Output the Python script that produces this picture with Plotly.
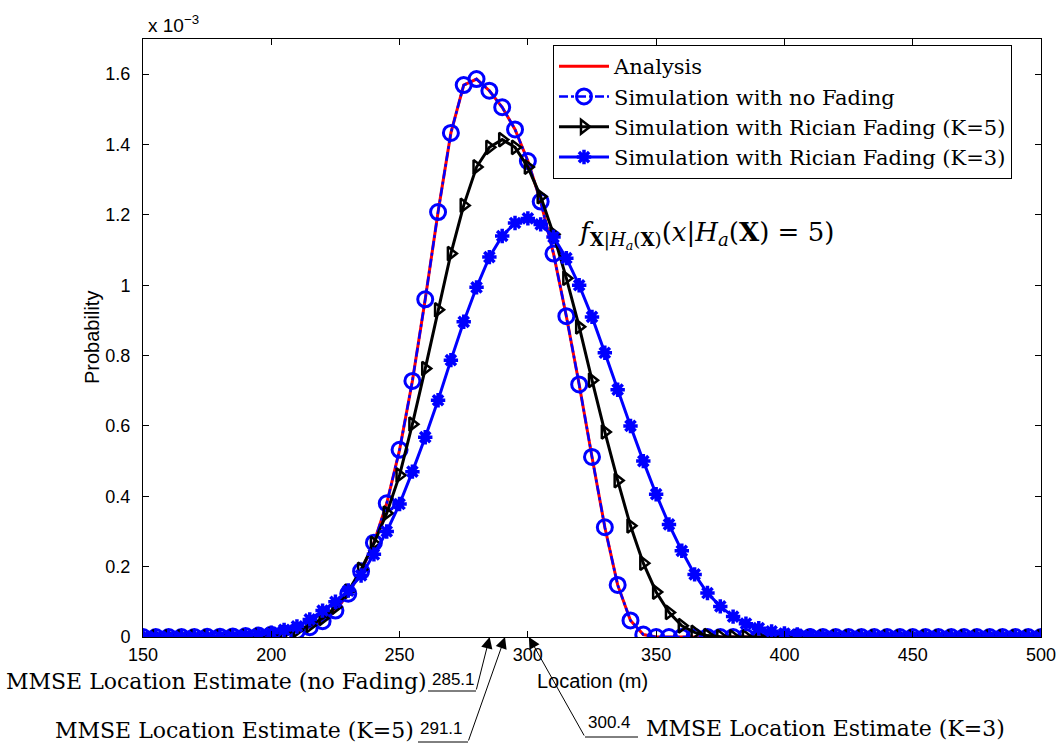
import plotly.graph_objects as go

# Location grid (m)
location = list(range(150, 505, 5))

# Probability values (in units of 1e-3)
analysis = [0, 0, 0, 0, 0.0002, 0.0004, 0.0008, 0.0015, 0.0025, 0.004,
            0.0065, 0.010, 0.017, 0.028, 0.045, 0.075, 0.123, 0.187, 0.268, 0.38,
            0.532, 0.728, 0.96, 1.208, 1.433, 1.569, 1.586, 1.553, 1.506, 1.443,
            1.353, 1.238, 1.09, 0.912, 0.718, 0.512, 0.312, 0.148, 0.047, 0.007,
            0, 0, 0, 0, 0, 0, 0, 0, 0, 0,
            0, 0, 0, 0, 0, 0, 0, 0, 0, 0,
            0, 0, 0, 0, 0, 0, 0, 0, 0, 0, 0]
no_fading = list(analysis)
rician_k5 = [0, 0, 0, 0, 0, 0, 0, 0.001, 0.002, 0.004,
             0.007, 0.012, 0.02, 0.033, 0.053, 0.085, 0.13, 0.192, 0.266, 0.352,
             0.46, 0.605, 0.763, 0.93, 1.09, 1.227, 1.336, 1.392, 1.414, 1.392,
             1.336, 1.252, 1.145, 1.02, 0.882, 0.73, 0.583, 0.445, 0.316, 0.21,
             0.128, 0.07, 0.032, 0.013, 0.004, 0.001, 0, 0, 0, 0,
             0, 0, 0, 0, 0, 0, 0, 0, 0, 0,
             0, 0, 0, 0, 0, 0, 0, 0, 0, 0, 0]
rician_k3 = [0, 0, 0, 0, 0, 0, 0.001, 0.002, 0.004, 0.007,
             0.012, 0.02, 0.03, 0.05, 0.075, 0.1, 0.132, 0.175, 0.235, 0.3,
             0.378, 0.47, 0.568, 0.673, 0.787, 0.896, 0.994, 1.08, 1.14, 1.177,
             1.19, 1.173, 1.137, 1.077, 1.0, 0.91, 0.808, 0.703, 0.6, 0.5,
             0.406, 0.32, 0.245, 0.178, 0.125, 0.087, 0.058, 0.038, 0.025, 0.016,
             0.01, 0.007, 0.004, 0.002, 0.001, 0, 0, 0, 0, 0,
             0, 0, 0, 0, 0, 0, 0, 0, 0, 0, 0]

x_ticks = [150, 200, 250, 300, 350, 400, 450, 500]
y_ticks = [0, 0.2, 0.4, 0.6, 0.8, 1.0, 1.2, 1.4, 1.6]
y_tick_labels = ["0", "0.2", "0.4", "0.6", "0.8", "1", "1.2", "1.4", "1.6"]

# MMSE estimates
est_labels = ["MMSE Location Estimate (no Fading)", "MMSE Location Estimate (K=5)",
              "MMSE Location Estimate (K=3)"]
est_values = [285.1, 291.1, 300.4]

W, H = 1057, 746
L, R, T, B = 143, 16, 39, 109
PW, PH = W - L - R, H - T - B

def px(x):
    return (x - L) / PW

def py(y):
    return 1 - (y - T) / PH

SERIF = "DejaVu Serif"
SANS = "Liberation Sans"

fig = go.Figure()
fig.add_trace(go.Scatter(x=location, y=analysis, mode="lines", name="Analysis",
                         line=dict(color="#ff0000", width=3)))
fig.add_trace(go.Scatter(x=location, y=no_fading, mode="lines+markers",
                         name="Simulation with no Fading",
                         line=dict(color="#0000ff", width=2.5, dash="dashdot"),
                         marker=dict(symbol="circle-open", size=15, color="#0000ff",
                                     line=dict(width=3, color="#0000ff"))))
fig.add_trace(go.Scatter(x=location, y=rician_k5, mode="lines+markers",
                         name="Simulation with Rician Fading (K=5)",
                         line=dict(color="#000000", width=3),
                         marker=dict(symbol="triangle-right-open", size=12, color="#000000",
                                     line=dict(width=2.5, color="#000000"))))
fig.add_trace(go.Scatter(x=location, y=rician_k3, mode="lines+markers",
                         name="Simulation with Rician Fading (K=3)",
                         line=dict(color="#0000ff", width=3),
                         marker=dict(symbol="asterisk-open", size=12, color="#0000ff",
                                     line=dict(width=3.5, color="#0000ff"))))

annotations = []
# exponent label
annotations.append(dict(text="x 10<sup>−3</sup>", xref="paper", yref="paper",
                        x=px(146), y=py(24), xanchor="left", yanchor="middle",
                        showarrow=False, font=dict(family=SANS, size=19, color="black")))
# axis titles
annotations.append(dict(text="Probability", xref="paper", yref="paper", x=px(92), y=0.5,
                        textangle=-90, showarrow=False, xanchor="center", yanchor="middle",
                        font=dict(family=SANS, size=20, color="black")))
annotations.append(dict(text="Location (m)", xref="paper", yref="paper", x=px(592), y=py(681),
                        showarrow=False, xanchor="center", yanchor="middle",
                        font=dict(family=SANS, size=20, color="black")))
# formula
annotations.append(dict(text="<i>f</i><sub><b>X</b>|<i>H</i><sub><i>a</i></sub>(<b>X</b>)</sub>"
                             "(<i>x</i>|<i>H</i><sub><i>a</i></sub>(<b>X</b>) = 5)",
                        xref="paper", yref="paper", x=px(576), y=py(235),
                        xanchor="left", yanchor="middle", showarrow=False,
                        font=dict(family=SERIF, size=26, color="black")))

# estimate labels layout (pixel geometry)
label_pos = [dict(lab_x=428, lab_anchor="right", lab_y=681, num_x=431, num_y=679,
                  ul=(428, 476, 691), tail=(476, 691)),
             dict(lab_x=415, lab_anchor="right", lab_y=731, num_x=419, num_y=729,
                  ul=(418, 468, 742), tail=(468, 742)),
             dict(lab_x=645, lab_anchor="left", lab_y=729, num_x=587, num_y=723,
                  ul=(585, 638, 737), tail=(585, 737))]
shapes = []
for lab, val, p in zip(est_labels, est_values, label_pos):
    annotations.append(dict(text=lab, xref="paper", yref="paper", x=px(p["lab_x"]),
                            y=py(p["lab_y"]), xanchor=p["lab_anchor"], yanchor="middle",
                            showarrow=False, borderpad=0,
                            font=dict(family=SERIF, size=22, color="black")))
    annotations.append(dict(text=f"{val:.1f}", xref="paper", yref="paper", x=px(p["num_x"]),
                            y=py(p["num_y"]), xanchor="left", yanchor="middle",
                            showarrow=False, borderpad=0,
                            font=dict(family=SANS, size=17, color="black")))
    x0, x1, yy = p["ul"]
    shapes.append(dict(type="line", xref="paper", yref="paper", x0=px(x0), x1=px(x1),
                       y0=py(yy), y1=py(yy), line=dict(color="black", width=1)))
    head_px = L + (val - 150) / 350 * PW
    annotations.append(dict(text="", xref="x", yref="y", x=val, y=0, showarrow=True,
                            ax=p["tail"][0] - head_px, ay=p["tail"][1] - (T + PH),
                            arrowhead=2, arrowsize=2.3, arrowwidth=1, arrowcolor="black",
                            standoff=0, startstandoff=0))

fig.update_layout(
    width=W, height=H,
    margin=dict(l=L, r=R, t=T, b=B, pad=0, autoexpand=False),
    paper_bgcolor="white", plot_bgcolor="white",
    showlegend=True,
    legend=dict(x=px(553), y=py(45), xanchor="left", yanchor="top",
                bgcolor="white", bordercolor="black", borderwidth=1,
                font=dict(family=SERIF, size=21, color="black"),
                tracegroupgap=0, itemwidth=50),
    xaxis=dict(range=[150, 500], tickvals=x_ticks, ticktext=[str(v) for v in x_ticks],
               ticks="inside", ticklen=6, tickcolor="black", showline=True, linecolor="black",
               linewidth=1, mirror="allticks", showgrid=False, zeroline=False, automargin=False,
               ticklabelstandoff=1,
               tickfont=dict(family=SANS, size=18, color="black")),
    yaxis=dict(range=[0, 1.7], tickvals=y_ticks, ticktext=y_tick_labels,
               ticks="inside", ticklen=6, tickcolor="black", showline=True, linecolor="black",
               linewidth=1, mirror="allticks", showgrid=False, zeroline=False, automargin=False,
               ticklabelstandoff=8,
               tickfont=dict(family=SANS, size=18, color="black")),
    annotations=annotations,
    shapes=shapes,
)

fig.write_html("out.html")
